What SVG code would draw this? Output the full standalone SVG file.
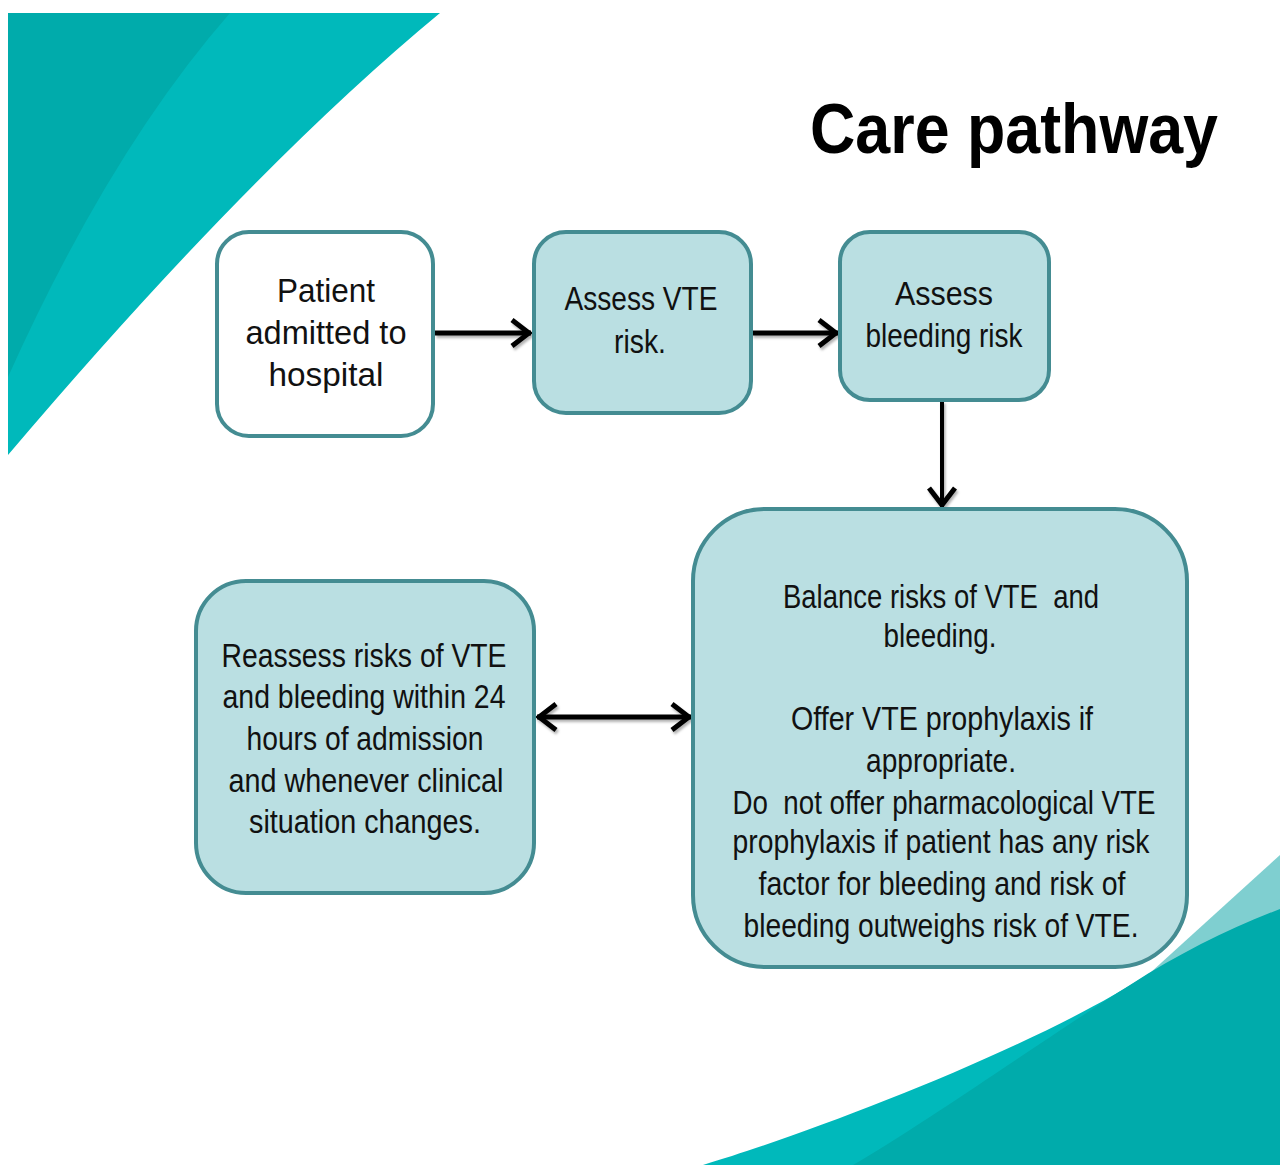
<svg xmlns="http://www.w3.org/2000/svg" width="1280" height="1165" viewBox="0 0 1280 1165">
  <defs>
    <style>
      .box { fill: #BADFE2; stroke: #448C92; stroke-width: 4; }
      .box.start { fill: #FFFFFF; }
      .label { font-family: "Liberation Sans", Arial, sans-serif; font-size: 33px; fill: #111111; text-anchor: middle; }
      .title { font-family: "Liberation Sans", Arial, sans-serif; font-size: 70px; font-weight: bold; fill: #000000; }
      .link { fill: none; stroke: #000000; stroke-width: 5; }
      .link.thin { stroke-width: 4; }
    </style>
    <marker id="chevron" markerUnits="userSpaceOnUse" viewBox="-24 -17 26 34" refX="0" refY="0" markerWidth="26" markerHeight="34" orient="auto-start-reverse">
      <path d="M-19,-13 L-2,0 L-19,13" fill="none" stroke="#000000" stroke-width="5" stroke-linejoin="miter"/>
    </marker>
    <filter id="soft-shadow" x="-10%" y="-50%" width="120%" height="200%">
      <feDropShadow dx="1.5" dy="2.5" stdDeviation="1.3" flood-color="#000000" flood-opacity="0.3"/>
    </filter>
  </defs>

  <rect width="1280" height="1165" fill="#FFFFFF"/>

  <!-- corner swooshes -->
  <g id="decor">
    <path d="M8,13 L440,13 Q250,170 8,455 Z" fill="#00B9BB"/>
    <path d="M8,13 L230,13 Q110,150 8,377 Z" fill="#00ABAB"/>
    <path d="M1150,973 L1280,855 L1280,1165 L1150,1165 Z" fill="#7FCFD0"/>
    <path d="M703,1165 C820,1130 1040,1045 1150,973 L1280,935 L1280,1165 Z" fill="#00B9BB"/>
    <path d="M853,1165 C930,1120 1050,1035 1130,985 C1180,953 1230,928 1280,909 L1280,1165 Z" fill="#00ABAB"/>
  </g>

  <text id="title" class="title" x="810" y="153" textLength="408" lengthAdjust="spacingAndGlyphs">Care pathway</text>

  <!-- connectors -->
  <g id="connectors" filter="url(#soft-shadow)">
    <line class="link" x1="435" y1="333" x2="531" y2="333" marker-end="url(#chevron)"/>
    <line class="link" x1="752" y1="333" x2="838" y2="333" marker-end="url(#chevron)"/>
    <line class="link thin" x1="942" y1="401" x2="942" y2="507" marker-end="url(#chevron)"/>
    <line class="link" x1="537" y1="717" x2="691" y2="717" marker-start="url(#chevron)" marker-end="url(#chevron)"/>
  </g>

  <g id="node-admitted">
    <rect class="box start" x="217" y="232" width="216" height="204" rx="32"/>
    <text class="label" x="326" y="302" textLength="98" lengthAdjust="spacingAndGlyphs">Patient</text>
    <text class="label" x="326" y="344" textLength="161" lengthAdjust="spacingAndGlyphs">admitted to</text>
    <text class="label" x="326" y="386" textLength="115" lengthAdjust="spacingAndGlyphs">hospital</text>
  </g>

  <g id="node-assess-vte">
    <rect class="box" x="534" y="232" width="217" height="181" rx="32"/>
    <text class="label" x="641" y="310" textLength="153" lengthAdjust="spacingAndGlyphs">Assess VTE</text>
    <text class="label" x="640" y="353" textLength="52" lengthAdjust="spacingAndGlyphs">risk.</text>
  </g>

  <g id="node-assess-bleeding">
    <rect class="box" x="840" y="232" width="209" height="168" rx="30"/>
    <text class="label" x="944" y="305" textLength="98" lengthAdjust="spacingAndGlyphs">Assess</text>
    <text class="label" x="944" y="347" textLength="157" lengthAdjust="spacingAndGlyphs">bleeding risk</text>
  </g>

  <g id="node-balance">
    <rect class="box" x="693" y="509" width="494" height="458" rx="72"/>
    <text class="label" x="941" y="608" textLength="316" lengthAdjust="spacingAndGlyphs">Balance risks of VTE&#160; and</text>
    <text class="label" x="940" y="647" textLength="113" lengthAdjust="spacingAndGlyphs">bleeding.</text>
    <text class="label" x="942" y="730" textLength="302" lengthAdjust="spacingAndGlyphs">Offer VTE prophylaxis if</text>
    <text class="label" x="941" y="772" textLength="150" lengthAdjust="spacingAndGlyphs">appropriate.</text>
    <text class="label" x="944" y="814" textLength="423" lengthAdjust="spacingAndGlyphs">Do&#160; not offer pharmacological VTE</text>
    <text class="label" x="941" y="853" textLength="417" lengthAdjust="spacingAndGlyphs">prophylaxis if patient has any risk</text>
    <text class="label" x="942" y="895" textLength="367" lengthAdjust="spacingAndGlyphs">factor for bleeding and risk of</text>
    <text class="label" x="941" y="937" textLength="395" lengthAdjust="spacingAndGlyphs">bleeding outweighs risk of VTE.</text>
  </g>

  <g id="node-reassess">
    <rect class="box" x="196" y="581" width="338" height="312" rx="50"/>
    <text class="label" x="364" y="667" textLength="285" lengthAdjust="spacingAndGlyphs">Reassess risks of VTE</text>
    <text class="label" x="364" y="708" textLength="283" lengthAdjust="spacingAndGlyphs">and bleeding within 24</text>
    <text class="label" x="365" y="750" textLength="237" lengthAdjust="spacingAndGlyphs">hours of admission</text>
    <text class="label" x="366" y="792" textLength="275" lengthAdjust="spacingAndGlyphs">and whenever clinical</text>
    <text class="label" x="365" y="833" textLength="232" lengthAdjust="spacingAndGlyphs">situation changes.</text>
  </g>
</svg>
